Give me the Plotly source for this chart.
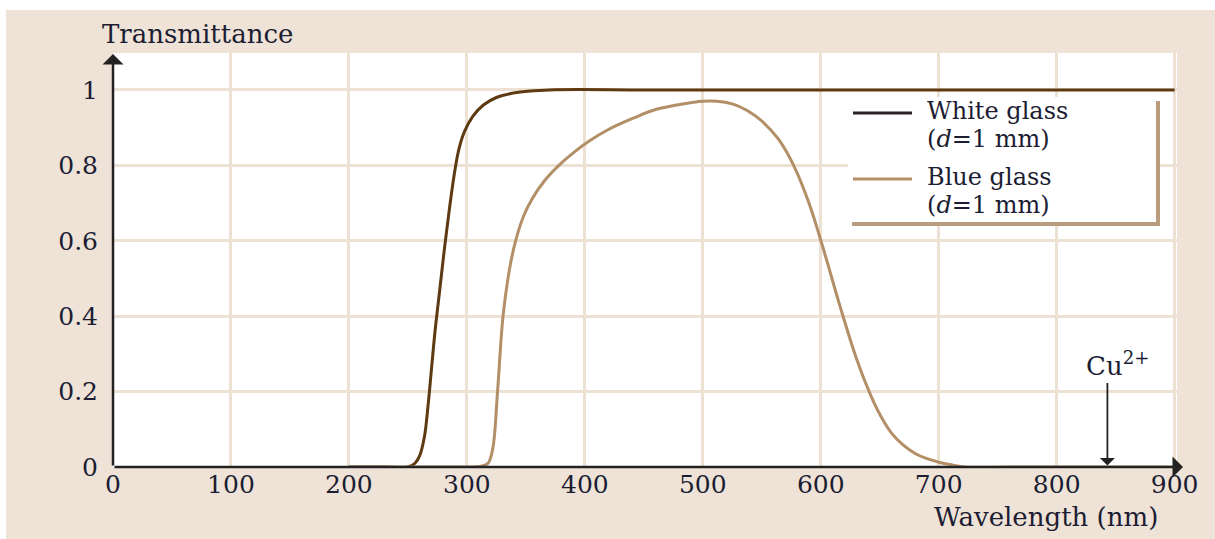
import plotly.graph_objects as go

# ---------------- data ----------------
white_wl = [200, 230, 250, 256, 260, 264, 267, 270, 273, 277, 281, 285, 289, 293, 298,
            305, 314, 325, 342, 370, 450, 550, 650, 750, 850, 900]
white_T = [0, 0, 0, 0.01, 0.03, 0.08, 0.16, 0.26, 0.36, 0.47, 0.58, 0.68, 0.77, 0.84, 0.89,
           0.93, 0.96, 0.98, 0.993, 1.0, 1.0, 1.0, 1.0, 1.0, 1.0, 1.0]

blue_wl = [200, 260, 300, 312, 318, 322, 326, 331, 339, 348, 356, 366, 378, 391, 404, 420,
           441, 460, 483, 500, 512, 525, 538, 551, 564, 577, 590, 603, 616, 630,
           641, 650, 660, 670, 680, 690, 701, 712, 722, 760, 820, 900]
blue_T = [0, 0, 0, 0.002, 0.01, 0.05, 0.2, 0.41, 0.57, 0.665, 0.715, 0.76, 0.80, 0.835,
          0.865, 0.895, 0.925, 0.948, 0.963, 0.97, 0.97, 0.963, 0.945, 0.915, 0.87, 0.80,
          0.70, 0.57, 0.43, 0.29, 0.20, 0.14, 0.09, 0.058, 0.036, 0.022, 0.012, 0.005,
          0, 0, 0, 0]

x_ticks = [0, 100, 200, 300, 400, 500, 600, 700, 800, 900]
y_ticks = [0, 0.2, 0.4, 0.6, 0.8, 1]
y_ticktext = ["0", "0.2", "0.4", "0.6", "0.8", "1"]

cu_wl = 843

# ---------------- styling ----------------
W, H = 1215, 539
L, R, T, B = 113, 1177, 53, 467
PW, PH = R - L, B - T
BEIGE = "#EFE3D7"
GRID = "#EDE1D3"
DARK = "#5E3A12"
LIGHT = "#B38F68"
TXT = "#1c1d33"
FONT = "DejaVu Serif"


def xp(px):
    return (px - L) / PW


def yp(py):
    return (B - py) / PH


fig = go.Figure()
fig.add_trace(go.Scatter(x=white_wl, y=white_T, mode="lines", name="White glass",
                         line=dict(color=DARK, width=3, shape="spline", smoothing=1.0),
                         showlegend=False))
fig.add_trace(go.Scatter(x=blue_wl, y=blue_T, mode="lines", name="Blue glass",
                         line=dict(color=LIGHT, width=3, shape="spline", smoothing=1.0),
                         showlegend=False))

shapes = [
    dict(type="rect", xref="paper", yref="paper", x0=xp(6), x1=xp(1215), y0=yp(539), y1=yp(10),
         fillcolor=BEIGE, line=dict(width=0), layer="below"),
    dict(type="rect", xref="paper", yref="paper", x0=0, x1=1, y0=0, y1=1,
         fillcolor="white", line=dict(width=0), layer="below"),
    # legend box
    dict(type="rect", xref="paper", yref="paper", x0=xp(848), x1=xp(1157), y0=yp(222), y1=yp(97),
         fillcolor="white", line=dict(width=0), layer="above"),
    dict(type="line", xref="paper", yref="paper", x0=xp(1158), x1=xp(1158), y0=yp(226), y1=yp(101),
         line=dict(color="#B99C7E", width=4), layer="above"),
    dict(type="line", xref="paper", yref="paper", x0=xp(852), x1=xp(1160), y0=yp(224), y1=yp(224),
         line=dict(color="#B99C7E", width=4), layer="above"),
    dict(type="line", xref="paper", yref="paper", x0=xp(853), x1=xp(912), y0=yp(113), y1=yp(113),
         line=dict(color="#2a2522", width=3), layer="above"),
    dict(type="line", xref="paper", yref="paper", x0=xp(853), x1=xp(912), y0=yp(179), y1=yp(179),
         line=dict(color=LIGHT, width=3), layer="above"),
]

tf = dict(family=FONT, size=26, color=TXT)
lf = dict(family=FONT, size=24, color=TXT)
annotations = [
    # axes arrows
    dict(x=0, y=yp(54), xref="x", yref="paper", ax=0, ay=413, text="", showarrow=True,
         arrowhead=1, arrowwidth=2.5, arrowsize=1.4, arrowcolor="#222222"),
    dict(x=xp(1183), y=0, xref="paper", yref="paper", ax=-1070, ay=0, text="", showarrow=True,
         arrowhead=1, arrowwidth=2.5, arrowsize=1.4, arrowcolor="#222222"),
    # Cu2+
    dict(x=cu_wl, y=0.004, xref="x", yref="y", ax=0, ay=-84, text="", showarrow=True,
         arrowhead=1, arrowwidth=1.8, arrowsize=1.4, arrowcolor="#222222"),
    dict(x=xp(1117), y=yp(364), xref="paper", yref="paper", text="Cu<sup>2+</sup>",
         showarrow=False, font=dict(family=FONT, size=26, color=TXT),
         xanchor="center", yanchor="middle"),
    # titles
    dict(x=xp(100), y=yp(34), xref="paper", yref="paper", text="Transmittance",
         showarrow=False, font=tf, xanchor="left", yanchor="middle"),
    dict(x=xp(1160), y=yp(517), xref="paper", yref="paper", text="Wavelength (nm)",
         showarrow=False, font=tf, xanchor="right", yanchor="middle"),
    # legend text
    dict(x=xp(925), y=yp(111), xref="paper", yref="paper", text="White glass",
         showarrow=False, font=lf, xanchor="left", yanchor="middle"),
    dict(x=xp(925), y=yp(139), xref="paper", yref="paper", text="(<i>d</i>=1 mm)",
         showarrow=False, font=lf, xanchor="left", yanchor="middle"),
    dict(x=xp(925), y=yp(177), xref="paper", yref="paper", text="Blue glass",
         showarrow=False, font=lf, xanchor="left", yanchor="middle"),
    dict(x=xp(925), y=yp(205), xref="paper", yref="paper", text="(<i>d</i>=1 mm)",
         showarrow=False, font=lf, xanchor="left", yanchor="middle"),
]

fig.update_layout(
    width=W, height=H,
    margin=dict(l=L, r=W - R, t=T, b=H - B, pad=0),
    paper_bgcolor="white", plot_bgcolor="white",
    shapes=shapes, annotations=annotations,
    showlegend=False,
    xaxis=dict(range=[0, 902], tickvals=x_ticks, ticktext=[str(v) for v in x_ticks],
               showgrid=True, gridcolor=GRID, gridwidth=3, zeroline=False, showline=False,
               ticks="", ticklabelstandoff=0,
               tickfont=dict(family=FONT, size=25, color=TXT), fixedrange=True),
    yaxis=dict(range=[0, 1.098], tickvals=y_ticks, ticktext=y_ticktext,
               showgrid=True, gridcolor=GRID, gridwidth=3, zeroline=False, showline=False,
               ticks="", ticklabelstandoff=14,
               tickfont=dict(family=FONT, size=25, color=TXT), fixedrange=True),
)

fig.write_html("out.html")
